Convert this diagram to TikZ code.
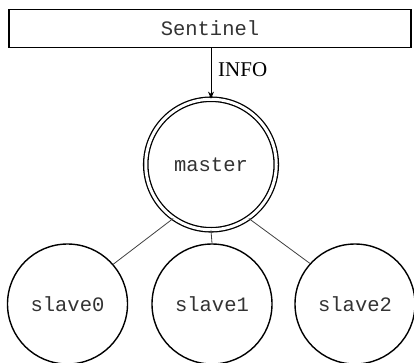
\documentclass[tikz,border=0pt]{standalone}
\usepackage{fontspec}
\setmonofont{Liberation Mono}
\setmainfont{Liberation Serif}
\usetikzlibrary{arrows.meta}
\begin{document}
\begin{tikzpicture}[x=1pt,y=-1pt,
  monotext/.style={font=\ttfamily\fontsize{20.5}{24}\selectfont, text=black!80},
  boxnode/.style={draw, line width=1.3pt, minimum width=402pt, minimum height=38pt, inner sep=0pt, monotext},
  mastercirc/.style={circle, draw, double, line width=1.3pt, double distance=3pt, minimum size=130.5pt, inner sep=0pt, monotext},
  slavecirc/.style={circle, draw, line width=1.4pt, minimum size=120pt, inner sep=0pt, monotext},
  link/.style={line width=0.8pt, draw=black!75},
  infoarrow/.style={line width=0.8pt, -{Stealth[length=7pt,width=6pt]}}
]
\useasboundingbox (0,0) rectangle (414,362);
\node[boxnode] (sentinel) at (210,28.3) {Sentinel};
\node[mastercirc] (master) at (211,164.5) {master};
\node[slavecirc] (s0) at (67.5,304) {slave0};
\node[slavecirc] (s1) at (212,304) {slave1};
\node[slavecirc] (s2) at (355,304) {slave2};
\draw[infoarrow] (master.north |- sentinel.south) -- (master.north);
\node[anchor=west, inner sep=0pt, font=\fontsize{21}{24}\selectfont] (info) at (218,70) {INFO};
\draw[link] (master.235) -- (s0.41);
\draw[link] (master.south) -- (s1.north);
\draw[link] (master.-55) -- (s2.138);
\end{tikzpicture}
\end{document}
